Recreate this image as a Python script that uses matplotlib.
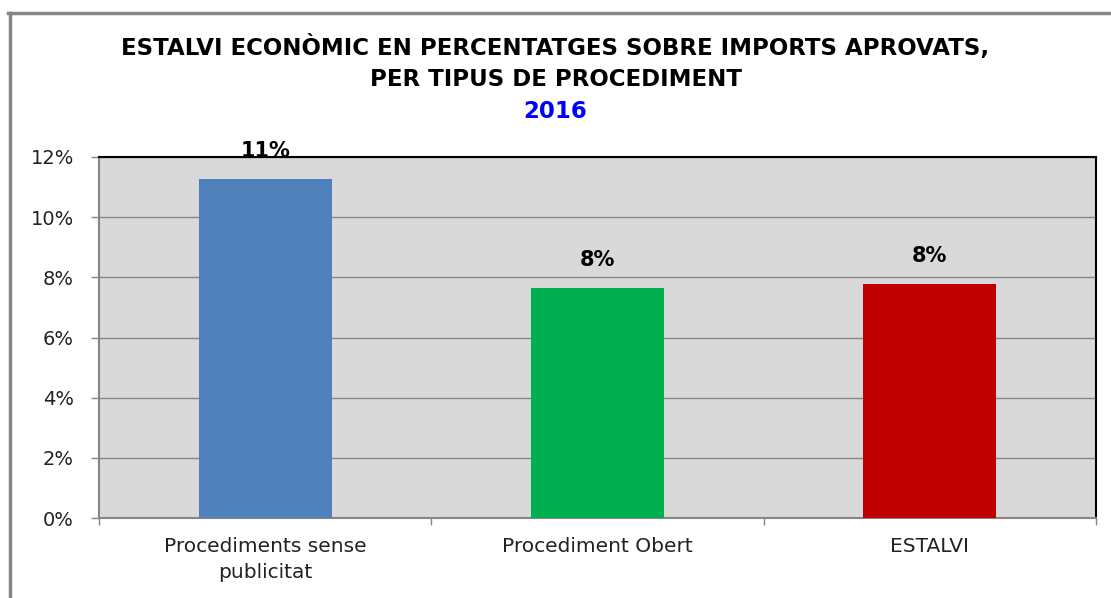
import matplotlib.pyplot as plt
from matplotlib.lines import Line2D
from matplotlib.ticker import FixedLocator, PercentFormatter
import numpy as np

categories = ['Procediments sense\npublicitat', 'Procediment Obert', 'ESTALVI']
values = [11.27, 7.64, 7.77]
labels = ['11%', '8%', '8%']
colors = ['#4f81bd', '#00b050', '#c00000']

fig = plt.figure(figsize=(11.11, 5.98), dpi=100)
ax = fig.add_axes([99 / 1111, 1 - 518 / 598, (1096 - 99) / 1111, (518 - 157) / 598])
ax.set_facecolor('#d9d9d9')

x = np.arange(len(categories))
ax.bar(x, values, width=0.4, color=colors, zorder=3)
for xi, v, lab in zip(x, values, labels):
    ax.text(xi, v + 0.6, lab, ha='center', va='bottom', fontsize=15,
            fontweight='bold', color='black', zorder=5, clip_on=False)

ax.set_xlim(-0.5, 2.5)
ax.set_ylim(0, 12)
ax.set_yticks(np.arange(0, 13, 2))
ax.yaxis.set_major_formatter(PercentFormatter(decimals=0))
ax.grid(axis='y', color='#868686', linewidth=1, zorder=1)

ax.set_xticks(x)
ax.set_xticklabels(categories, fontsize=14.5, color='#222222', linespacing=1.45)
ax.xaxis.set_minor_locator(FixedLocator([-0.5, 0.5, 1.5, 2.5]))
ax.tick_params(axis='x', which='major', length=0, pad=14)
ax.tick_params(axis='x', which='minor', length=5, color='#868686', width=1)
ax.tick_params(axis='y', length=6, color='#868686', width=1, labelsize=14,
               labelcolor='#222222', pad=12)

for side in ['left', 'bottom']:
    ax.spines[side].set_color('#868686')
    ax.spines[side].set_linewidth(1.5)
for side in ['top', 'right']:
    ax.spines[side].set_color('black')
    ax.spines[side].set_linewidth(1.5)

title_font = ['Liberation Sans Narrow', 'DejaVu Sans']
fig.text(0.5, 1 - 48 / 598, 'ESTALVI ECONÒMIC EN PERCENTATGES SOBRE IMPORTS APROVATS,',
         ha='center', va='center', fontsize=16.5, fontweight='bold', family=title_font)
fig.text(0.5, 1 - 80 / 598, 'PER TIPUS DE PROCEDIMENT',
         ha='center', va='center', fontsize=16.5, fontweight='bold', family=title_font)
fig.text(0.5, 1 - 112 / 598, '2016',
         ha='center', va='center', fontsize=16.5, fontweight='bold', color='#0000ff',
         family=title_font)

# outer chart frame
fig.add_artist(Line2D([9.5 / 1111, 9.5 / 1111], [0, 1 - 13 / 598],
                      transform=fig.transFigure, color='#868686', linewidth=2.5))
fig.add_artist(Line2D([8 / 1111, 1], [1 - 13 / 598, 1 - 13 / 598],
                      transform=fig.transFigure, color='#868686', linewidth=2.5))

fig.savefig('out.png', dpi=100)
